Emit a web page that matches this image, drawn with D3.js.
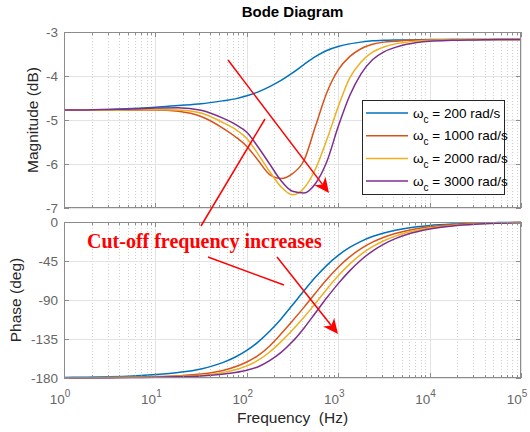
<!DOCTYPE html>
<html>
<head>
<meta charset="utf-8">
<script src="https://cdn.jsdelivr.net/npm/d3@7"></script>
<style>
body{margin:0;background:#fff;}
svg{display:block;font-family:"Liberation Sans",Arial,sans-serif;}
</style>
</head>
<body>
<div class="chart"></div>
<script>
//Data (every 1/4 decade, 1/8 decade in the middle)
const freqs = [1, 1.778, 3.162, 5.623, 10, 17.78, 31.62, 56.23, 74.99, 100, 133.4, 177.8, 237.1, 316.2, 421.7, 562.3, 749.9,
    1000, 1334, 1778, 2371, 3162, 4217, 5623, 10000, 17783, 31623, 56234, 100000];
const mag200  = [-4.77, -4.77, -4.76, -4.74, -4.71, -4.67, -4.63, -4.56, -4.52, -4.45, -4.36, -4.24, -4.10, -3.93, -3.74, -3.56, -3.42,
    -3.33, -3.27, -3.23, -3.20, -3.19, -3.18, -3.18, -3.17, -3.17, -3.17, -3.17, -3.17];
const mag1000 = [-4.77, -4.77, -4.77, -4.77, -4.77, -4.80, -4.92, -5.20, -5.38, -5.60, -5.92, -6.24, -6.33, -6.22, -5.92, -5.15, -4.38,
    -3.86, -3.56, -3.38, -3.28, -3.23, -3.21, -3.19, -3.18, -3.17, -3.17, -3.17, -3.17];
const mag2000 = [-4.77, -4.77, -4.77, -4.76, -4.76, -4.77, -4.84, -5.07, -5.21, -5.42, -5.78, -6.17, -6.52, -6.70, -6.55, -6.12, -5.45,
    -4.70, -4.05, -3.68, -3.46, -3.34, -3.27, -3.23, -3.19, -3.18, -3.17, -3.17, -3.17];
const mag3000 = [-4.77, -4.77, -4.76, -4.75, -4.73, -4.72, -4.78, -4.97, -5.10, -5.28, -5.62, -6.00, -6.38, -6.62, -6.66, -6.45, -5.95,
    -5.15, -4.45, -3.95, -3.63, -3.45, -3.35, -3.28, -3.21, -3.19, -3.18, -3.17, -3.17];
const ph200  = [-179.3, -179.0, -178.5, -177.6, -176.0, -173.6, -169.5, -161.7, -155.8, -148.1, -138.3, -126.1, -111.8, -95.8, -79.4, -63.8, -50.0,
    -38.6, -29.4, -22.3, -16.8, -12.6, -9.5, -7.1, -4.0, -2.3, -1.3, -0.7, -0.4];
const ph1000 = [-179.7, -179.6, -179.3, -178.9, -178.3, -177.3, -175.5, -171.0, -167.0, -161.5, -154.0, -143.0, -129.0, -114.0, -98.5, -82.1, -66.3,
    -52.2, -40.3, -30.8, -23.3, -17.6, -13.2, -10.0, -5.6, -3.2, -1.8, -1.0, -0.6];
const ph2000 = [-179.8, -179.7, -179.5, -179.2, -178.8, -178.1, -176.8, -173.5, -170.5, -166.0, -159.5, -150.0, -138.0, -124.6, -110.0, -94.0, -77.5,
    -62.1, -48.6, -37.4, -28.5, -21.6, -16.3, -12.2, -6.9, -3.9, -2.2, -1.2, -0.7];
const ph3000 = [-179.8, -179.8, -179.6, -179.4, -179.1, -178.6, -177.7, -175.5, -173.6, -171.0, -167.0, -160.0, -150.5, -138.0, -122.5, -105.0, -87.5,
    -71.1, -56.4, -43.8, -33.5, -25.5, -19.2, -14.5, -8.2, -4.6, -2.6, -1.5, -0.8];
const cutoffs = [200, 1000, 2000, 3000];
const magTicks = [-7, -6, -5, -4, -3];
const phaseTicks = [-180, -135, -90, -45, 0];
const freqTicks = [1, 10, 100, 1000, 10000, 100000];

const magSeries = [mag200, mag1000, mag2000, mag3000];
const phSeries = [ph200, ph1000, ph2000, ph3000];
const colors = ['#0072BD', '#D95319', '#EDB120', '#7E2F8E'];

//Layout
const W = 530, H = 432;
const left = 64, right = 521;
const magTop = 32, magBottom = 208;
const phTop = 222, phBottom = 378;
const tickColor = '#666', boxColor = '#8c8c8c', labelColor = '#262626';

const svg = d3.select('.chart').append('svg').attr('width', W).attr('height', H);

const xScale = d3.scaleLog().domain([1, 1e5]).range([left, right]);
const yMag = d3.scaleLinear().domain([-7, -3]).range([magBottom, magTop]);
const yPh = d3.scaleLinear().domain([-180, 0]).range([phBottom, phTop]);

// minor ticks 2..9 in each decade
const minorTicks = [];
freqTicks.slice(0, -1).forEach(d => { for (let k = 2; k < 10; k++) minorTicks.push(d * k); });
const px = d => Math.round(xScale(d)) + 0.5;

function drawPanel(yScale, yTicks, top, bottom, series, labelText, labelX) {
    const g = svg.append('g');
    // grid
    g.append('g').selectAll('line').data(minorTicks).join('line')
        .attr('x1', px).attr('x2', px).attr('y1', top).attr('y2', bottom)
        .attr('stroke', '#cfcfcf').attr('stroke-dasharray', '1,2');
    g.append('g').selectAll('line').data(freqTicks).join('line')
        .attr('x1', px).attr('x2', px).attr('y1', top).attr('y2', bottom).attr('stroke', '#e3e3e3');
    g.append('g').selectAll('line').data(yTicks).join('line')
        .attr('x1', left).attr('x2', right)
        .attr('y1', d => Math.round(yScale(d)) + 0.5).attr('y2', d => Math.round(yScale(d)) + 0.5)
        .attr('stroke', '#e3e3e3');

    // curves
    const line = d3.line()
        .x((d, i) => xScale(freqs[i]))
        .y(d => yScale(d))
        .curve(d3.curveMonotoneX);
    g.append('g').selectAll('path').data(series).join('path')
        .attr('d', line).attr('fill', 'none')
        .attr('stroke', (d, i) => colors[i]).attr('stroke-width', 1.5);

    // box + ticks
    g.append('rect').attr('x', left + 0.5).attr('y', top + 0.5)
        .attr('width', right - left - 1).attr('height', bottom - top - 1)
        .attr('fill', 'none').attr('stroke', boxColor);
    const tk = g.append('g').attr('stroke', boxColor);
    [[minorTicks, 3], [freqTicks, 5]].forEach(([arr, len]) => {
        tk.selectAll(null).data(arr).join('line')
            .attr('x1', px).attr('x2', px).attr('y1', top).attr('y2', top + len);
        tk.selectAll(null).data(arr).join('line')
            .attr('x1', px).attr('x2', px).attr('y1', bottom).attr('y2', bottom - len);
    });
    tk.selectAll(null).data(yTicks).join('line')
        .attr('x1', left).attr('x2', left + 5)
        .attr('y1', d => Math.round(yScale(d)) + 0.5).attr('y2', d => Math.round(yScale(d)) + 0.5);
    tk.selectAll(null).data(yTicks).join('line')
        .attr('x1', right).attr('x2', right - 5)
        .attr('y1', d => Math.round(yScale(d)) + 0.5).attr('y2', d => Math.round(yScale(d)) + 0.5);

    // y tick labels
    g.append('g').selectAll('text').data(yTicks).join('text')
        .attr('x', left - 6).attr('y', d => yScale(d)).attr('dy', '0.36em')
        .attr('text-anchor', 'end').attr('fill', tickColor).style('font-size', '13.5px')
        .text(d => d);

    // y label
    g.append('text')
        .attr('transform', `translate(${labelX},${(top + bottom) / 2}) rotate(-90)`)
        .attr('text-anchor', 'middle').attr('fill', labelColor).style('font-size', '15.5px')
        .text(labelText);
}

drawPanel(yMag, magTicks, magTop, magBottom, magSeries, 'Magnitude (dB)', 38);
drawPanel(yPh, phaseTicks, phTop, phBottom, phSeries, 'Phase (deg)', 21);

// x tick labels 10^n
const xl = svg.append('g').selectAll('text').data(freqTicks).join('text')
    .attr('x', d => xScale(d) - 4).attr('y', 404)
    .attr('text-anchor', 'middle').attr('fill', tickColor).style('font-size', '13.5px');
xl.append('tspan').text('10');
xl.append('tspan').attr('dy', -7).style('font-size', '10px').text(d => Math.round(Math.log10(d)));

// x label + title
svg.append('text').attr('x', (left + right) / 2).attr('y', 423)
    .attr('text-anchor', 'middle').attr('fill', labelColor).style('font-size', '15.5px')
    .attr('xml:space', 'preserve').text('Frequency  (Hz)');
svg.append('text').attr('x', (left + right) / 2).attr('y', 17)
    .attr('text-anchor', 'middle').attr('fill', '#000').style('font-size', '15px')
    .style('font-weight', 'bold').text('Bode Diagram');

// legend
const legend = svg.append('g');
legend.append('rect').attr('x', 362.5).attr('y', 100.5).attr('width', 142).attr('height', 94)
    .attr('fill', '#fff').attr('stroke', '#262626');
const entries = legend.selectAll('g.entry').data(cutoffs).join('g').attr('class', 'entry')
    .attr('transform', (d, i) => `translate(366,${113 + i * 22.7})`);
entries.append('line').attr('x1', 0).attr('x2', 42).attr('y1', 0).attr('y2', 0)
    .attr('stroke', (d, i) => colors[i]).attr('stroke-width', 1.5);
const lt = entries.append('text').attr('x', 47).attr('y', 4.5)
    .attr('fill', '#000').style('font-size', '13.5px');
lt.append('tspan').text('\u03c9');
lt.append('tspan').attr('dy', 5).style('font-size', '10px').text('c');
lt.append('tspan').attr('dy', -5).text(d => ` = ${d} rad/s`);

// red annotations (figure coordinates)
const arrows = [
    {x1: 228, y1: 60, x2: 329, y2: 193, head: true},
    {x1: 265, y1: 119, x2: 201, y2: 226, head: false},
    {x1: 208, y1: 257, x2: 284, y2: 285, head: false},
    {x1: 277, y1: 257, x2: 338, y2: 334, head: true}
];
const ann = svg.append('g');
arrows.forEach(a => {
    const ang = Math.atan2(a.y2 - a.y1, a.x2 - a.x1);
    const L = 15, Wd = 7;
    const endX = a.head ? a.x2 - Math.cos(ang) * L * 0.7 : a.x2;
    const endY = a.head ? a.y2 - Math.sin(ang) * L * 0.7 : a.y2;
    ann.append('line').attr('x1', a.x1).attr('y1', a.y1).attr('x2', endX).attr('y2', endY)
        .attr('stroke', '#ff0000').attr('stroke-width', 1.5);
    if (a.head) {
        const c = Math.cos(ang), s = Math.sin(ang);
        const pts = [[0, 0], [-L, Wd], [-L * 0.72, 0], [-L, -Wd]]
            .map(([u, v]) => [a.x2 + u * c - v * s, a.y2 + u * s + v * c]);
        ann.append('polygon').attr('points', pts.map(p => p.join(',')).join(' ')).attr('fill', '#ff0000');
    }
});
ann.append('text').attr('x', 87).attr('y', 248)
    .style('font-family', '"Liberation Serif","Times New Roman",serif')
    .style('font-weight', 'bold').style('font-size', '20px').attr('fill', '#ff0000')
    .text('Cut-off frequency increases');
</script>
</body>
</html>
